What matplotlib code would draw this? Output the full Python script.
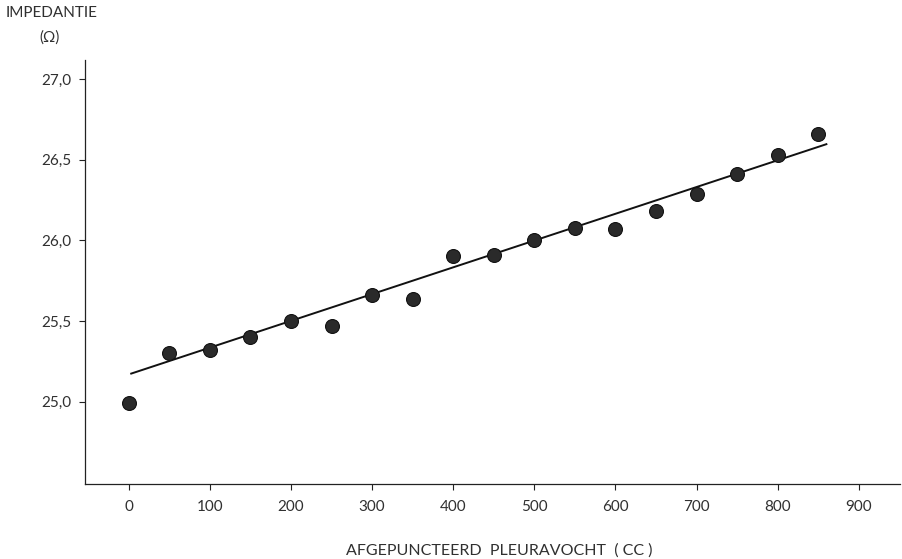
import matplotlib
matplotlib.use('Agg')
import matplotlib.pyplot as plt

# pleuravocht (cc) vs impedantie (ohm)
volume = [0, 50, 100, 150, 200, 250, 300, 350, 400, 450,
          500, 550, 600, 650, 700, 750, 800, 850]
impedantie = [24.99, 25.30, 25.32, 25.40, 25.50, 25.47, 25.66, 25.64, 25.905, 25.91,
              26.00, 26.08, 26.07, 26.18, 26.29, 26.41, 26.53, 26.66]

# regressielijn (begin- en eindpunt zoals getekend)
fit_x = [3, 860]
fit_y = [25.175, 26.597]

xticks = [0, 100, 200, 300, 400, 500, 600, 700, 800, 900]
yticks = [25.0, 25.5, 26.0, 26.5, 27.0]
ylabels = ['25,0', '25,5', '26,0', '26,5', '27,0']

plt.rcParams['font.family'] = ['Lato', 'DejaVu Sans']
txt = '#303030'
fig = plt.figure(figsize=(9.02, 5.59), dpi=100)
ax = fig.add_axes([0.0942, 0.134, 0.9038, 0.759])

ax.plot(fit_x, fit_y, color='#111111', lw=1.4, zorder=2)
ax.plot(volume, impedantie, 'o', ms=10, color='#2a2a2a', mec='#111111', mew=0.8, zorder=3)

ax.set_xlim(-54, 951)
ax.set_ylim(24.49, 27.12)
ax.set_xticks(xticks)
ax.set_xticklabels([str(t) for t in xticks])
ax.set_yticks(yticks)
ax.set_yticklabels(ylabels)
ax.tick_params(direction='out', length=4.5, width=0.8, labelsize=11,
               colors='#222222', labelcolor=txt, pad=7)
ax.tick_params(axis='y', pad=5)

for s in ['top', 'right']:
    ax.spines[s].set_visible(False)
for s in ['left', 'bottom']:
    ax.spines[s].set_linewidth(0.9)
    ax.spines[s].set_color('#222222')

fig.text(0.006, 0.976, 'IMPEDANTIE', fontsize=11, color=txt, va='center', ha='left')
fig.text(0.055, 0.932, '(Ω)', fontsize=11, color=txt, va='center', ha='center')
fig.text(0.554, 0.016, 'AFGEPUNCTEERD  PLEURAVOCHT  ( CC )', fontsize=11.5, color=txt,
         va='center', ha='center')

fig.savefig('out.png', dpi=100)
